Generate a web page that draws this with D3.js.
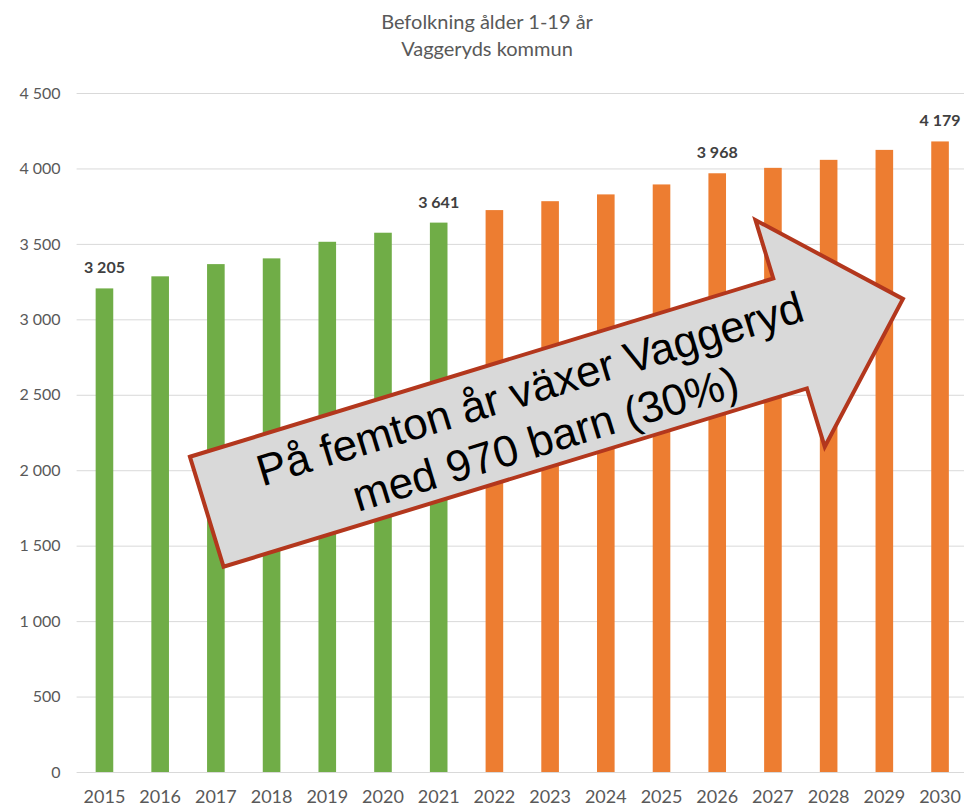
<!DOCTYPE html>
<html>
<head>
<meta charset="utf-8">
<script src="https://cdn.jsdelivr.net/npm/d3@7"></script>
<style>
  body { margin: 0; background: #fff; }
  svg { display: block; font-family: Lato, "Open Sans", sans-serif; }
</style>
</head>
<body>
<div id="chart"></div>
<script>
// data
const years = ["2015", "2016", "2017", "2018", "2019", "2020", "2021", "2022",
               "2023", "2024", "2025", "2026", "2027", "2028", "2029", "2030"];
const population = [3205, 3285, 3366, 3404, 3514, 3574, 3641, 3724,
                    3783, 3828, 3894, 3968, 4004, 4057, 4123, 4179];
const lastActualYear = "2021";
const labelledYears = ["2015", "2021", "2026", "2030"];
const yTicks = [0, 500, 1000, 1500, 2000, 2500, 3000, 3500, 4000, 4500];
const titleLines = ["Befolkning ålder 1-19 år", "Vaggeryds kommun"];
const arrowLines = ["På femton år växer Vaggeryd", "med 970 barn (30%)"];

const width = 964, height = 806;
const colorActual = "#70ad47", colorForecast = "#ed7d31";

const svg = d3.select("#chart").append("svg")
    .attr("width", width)
    .attr("height", height);

const x = d3.scaleBand()
    .domain(years)
    .range([76.6, 967.9])
    .paddingInner(0.684)
    .paddingOuter(0.342);

const y = d3.scaleLinear()
    .domain([0, 4500])
    .range([772, 93]);

const fmt = d3.formatLocale({ decimal: ",", thousands: " ", grouping: [3], currency: ["", " kr"] }).format(",d");

// title
svg.append("g")
    .selectAll("text")
    .data(titleLines)
    .join("text")
    .attr("x", 487)
    .attr("y", (d, i) => 29 + i * 27)
    .attr("text-anchor", "middle")
    .style("font-size", "20px")
    .style("fill", "#595959")
    .text(d => d);

// gridlines + y labels
const yAxis = svg.append("g")
    .attr("transform", "translate(76.6,0)")
    .call(d3.axisLeft(y).tickValues(yTicks).tickFormat(fmt).tickSize(-(width - 76.6)).tickPadding(16));
yAxis.select(".domain").remove();
yAxis.selectAll(".tick line").attr("stroke", "#d9d9d9");
yAxis.selectAll(".tick text")
    .style("font-size", "16px")
    .style("fill", "#595959")
    .style("font-family", "Lato, sans-serif");

// x labels
const xAxis = svg.append("g")
    .attr("transform", "translate(0,772)")
    .call(d3.axisBottom(x).tickSize(0).tickPadding(18));
xAxis.select(".domain").remove();
xAxis.selectAll(".tick text")
    .style("font-size", "18px")
    .style("fill", "#595959")
    .style("font-family", "Lato, sans-serif");

// bars
const rows = years.map((yr, i) => ({ year: yr, value: population[i] }));
svg.append("g")
    .selectAll("rect")
    .data(rows)
    .join("rect")
    .attr("x", d => x(d.year))
    .attr("width", x.bandwidth())
    .attr("y", d => y(d.value))
    .attr("height", d => y(0) - y(d.value))
    .attr("fill", d => d.year <= lastActualYear ? colorActual : colorForecast);

// value labels
svg.append("g")
    .selectAll("text")
    .data(rows.filter(d => labelledYears.includes(d.year)))
    .join("text")
    .attr("x", d => x(d.year) + x.bandwidth() / 2)
    .attr("y", d => y(d.value) - 15)
    .attr("text-anchor", "middle")
    .style("font-size", "16px")
    .style("font-weight", "bold")
    .style("fill", "#404040")
    .text(d => fmt(d.value));

// annotation arrow, drawn in its own rotated frame
const arrowLen = 728, shaftHalf = 57.5, headStart = 610, headHalf = 118.5;
const arrowShape = [
    [0, -shaftHalf], [headStart, -shaftHalf], [headStart, -headHalf],
    [arrowLen, 0], [headStart, headHalf], [headStart, shaftHalf], [0, shaftHalf]
];
const arrow = svg.append("g")
    .attr("transform", "translate(206.75,511.75) rotate(-17)");

arrow.append("path")
    .attr("d", d3.line()(arrowShape) + "Z")
    .attr("fill", "#d9d9d9")
    .attr("stroke", "#b3371d")
    .attr("stroke-width", 4)
    .attr("stroke-linejoin", "miter");

arrow.selectAll("text")
    .data(arrowLines)
    .join("text")
    .attr("x", 345)
    .attr("y", (d, i) => -8 + i * 52.5)
    .attr("text-anchor", "middle")
    .style("font-family", "'Liberation Sans', Arial, sans-serif")
    .style("font-size", "44px")
    .style("fill", "#000")
    .text(d => d);
</script>
</body>
</html>
